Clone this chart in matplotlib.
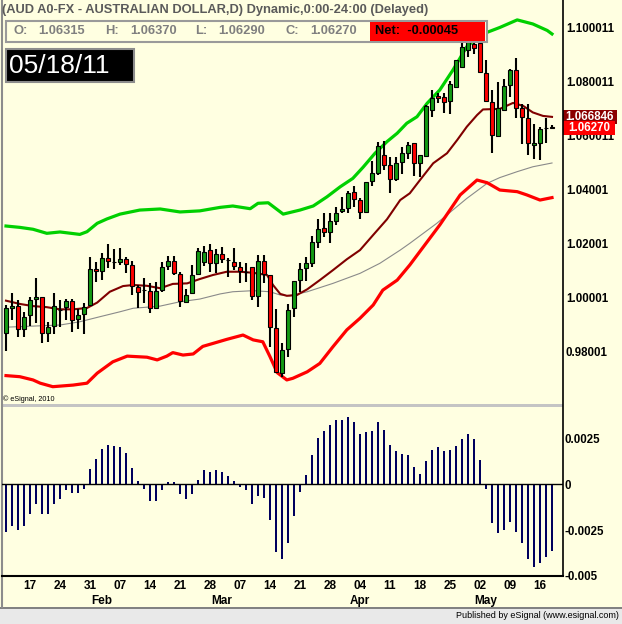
import numpy as np
import pandas as pd
import matplotlib
matplotlib.use("Agg")
import matplotlib.pyplot as plt
from matplotlib.patches import Rectangle

plt.rcParams['font.family'] = ['Liberation Sans', 'DejaVu Sans']

# ---------------- data ----------------
dates = pd.bdate_range('2011-01-11', '2011-05-18')   # 92 daily bars (FX, all weekdays)

opens = [0.98684, 0.99619, 0.99693, 0.98832, 0.99360, 0.99941, 1.00015, 0.98706, 0.98954, 0.99530,
         0.99667, 0.99878, 0.99201, 0.99397, 0.99730, 1.01050, 1.00987, 1.01457, 1.01331, 1.01331,
         1.01431, 1.01198, 1.00407, 1.00285, 1.00248, 0.99608, 1.00285, 1.01172, 1.01368, 1.00865,
         0.99852, 1.00163, 1.00876, 1.01320, 1.01763, 1.01294, 1.01604, 1.01394, 1.01309, 1.01124,
         1.00961, 1.01124, 1.00063, 1.01357, 1.00839, 0.98869, 0.97227, 0.98092, 0.99630, 1.00654,
         1.01087, 1.01294, 1.02070, 1.02588, 1.02418, 1.02847, 1.03194, 1.03305, 1.03896, 1.03612,
         1.03179, 1.04325, 1.04621, 1.05264, 1.04906, 1.04377, 1.05017, 1.05360, 1.05708, 1.04969,
         1.05238, 1.06939, 1.07457, 1.07409, 1.07272, 1.07800, 1.08518, 1.09157, 1.09379, 1.09405,
         1.08296, 1.07246, 1.05978, 1.06939, 1.07845, 1.08418, 1.07013, 1.06632, 1.05634, 1.05730,
         1.06285, 1.06315]
highs = [0.99730, 1.00185, 0.99915, 0.99482, 1.00037, 1.00717, 1.00037, 0.99113, 1.00163, 0.99915,
         0.99952, 0.99941, 0.99571, 0.99793, 1.01516, 1.01331, 1.01641, 1.01985, 1.01789, 1.01826,
         1.01516, 1.01346, 1.00458, 1.00717, 1.00555, 1.00569, 1.01331, 1.01542, 1.01542, 1.00961,
         1.00311, 1.01209, 1.01826, 1.01910, 1.01974, 1.01789, 1.01863, 1.01468, 1.01826, 1.01331,
         1.01272, 1.01146, 1.01579, 1.01579, 1.00839, 0.99571, 0.98314, 0.99767, 1.00617, 1.01272,
         1.01516, 1.02281, 1.02898, 1.03120, 1.03120, 1.03342, 1.03712, 1.03945, 1.04118, 1.03697,
         1.04288, 1.05072, 1.05767, 1.05793, 1.05213, 1.05213, 1.05571, 1.05756, 1.05730, 1.05275,
         1.07124, 1.07678, 1.07579, 1.07556, 1.08022, 1.08787, 1.09527, 1.09774, 1.09675, 1.09675,
         1.08787, 1.07678, 1.07985, 1.08085, 1.08473, 1.08850, 1.07161, 1.07161, 1.06421, 1.06311,
         1.06632, 1.06370]
lows = [0.98041, 0.99176, 0.98536, 0.98558, 0.98954, 0.99054, 0.98314, 0.98373, 0.98647, 0.98906,
        0.99176, 0.98743, 0.98832, 0.98658, 0.99700, 1.00569, 1.00654, 1.01109, 1.01050, 1.01209,
        1.00902, 1.00100, 0.99608, 0.99815, 0.99423, 0.99580, 1.00222, 1.01024, 1.00839, 0.99667,
        0.99820, 1.00120, 1.00839, 1.01170, 1.00961, 1.00902, 1.01272, 1.00754, 1.01024, 1.00532,
        1.00591, 0.99915, 0.99667, 1.00532, 0.98189, 0.97216, 0.97080, 0.97797, 0.99298, 1.00222,
        1.00628, 1.01124, 1.01848, 1.02255, 1.02033, 1.02688, 1.03120, 1.03120, 1.03364, 1.02898,
        1.03131, 1.04129, 1.04536, 1.04721, 1.03882, 1.04325, 1.04573, 1.05116, 1.04499, 1.04451,
        1.05190, 1.06680, 1.07209, 1.06817, 1.06780, 1.07778, 1.08510, 1.08887, 1.09006, 1.08340,
        1.07235, 1.05360, 1.05940, 1.06900, 1.07420, 1.06643, 1.05682, 1.05275, 1.05128, 1.05080,
        1.05708, 1.06270]
closes = [0.99630, 0.99693, 0.98832, 0.99298, 0.99904, 1.00015, 0.98684, 0.98906, 0.99693, 0.99550,
          0.99878, 0.99176, 0.99349, 0.99667, 1.01050, 1.00987, 1.01457, 1.01368, 1.01320, 1.01420,
          1.01246, 1.00444, 1.00222, 1.00280, 0.99608, 1.00248, 1.01135, 1.01368, 1.00924, 0.99878,
          1.00100, 1.00839, 1.01738, 1.01690, 1.01294, 1.01604, 1.01420, 1.01390, 1.01161, 1.00998,
          1.00960, 1.00063, 1.01357, 1.00876, 0.98928, 0.97264, 0.98067, 0.99545, 1.00617, 1.01061,
          1.01272, 1.02048, 1.02551, 1.02429, 1.02824, 1.03142, 1.03268, 1.03860, 1.03638, 1.03179,
          1.04288, 1.04621, 1.05608, 1.04906, 1.04377, 1.04991, 1.05349, 1.05645, 1.04969, 1.05257,
          1.07087, 1.07383, 1.07372, 1.07246, 1.07900, 1.08787, 1.09257, 1.09453, 1.09231, 1.08355,
          1.07272, 1.06015, 1.07013, 1.07826, 1.08418, 1.07013, 1.06680, 1.05719, 1.05708, 1.06248,
          1.06275, 1.06270]

# oscillator histogram (lower pane)
osc = [-0.00263, -0.00226, -0.00252, -0.00230, -0.00165, -0.00110, -0.00160, -0.00165, -0.00110, -0.00080,
       -0.00034, -0.00050, -0.00050, -0.00025, 0.00083, 0.00138, 0.00192, 0.00214, 0.00208, 0.00203,
       0.00172, 0.00089, 0.00018, -0.00024, -0.00094, -0.00094, -0.00034, 0.00013, 0.00013, -0.00056,
       -0.00080, -0.00053, 0.00024, 0.00078, 0.00067, 0.00078, 0.00067, 0.00045, 0.00018, -0.00013,
       -0.00034, -0.00110, -0.00067, -0.00074, -0.00197, -0.00370, -0.00410, -0.00320, -0.00176, -0.00045,
       0.00049, 0.00160, 0.00252, 0.00290, 0.00322, 0.00350, 0.00350, 0.00366, 0.00339, 0.00274,
       0.00284, 0.00290, 0.00339, 0.00295, 0.00214, 0.00181, 0.00165, 0.00160, 0.00094, 0.00056,
       0.00127, 0.00187, 0.00203, 0.00181, 0.00187, 0.00208, 0.00246, 0.00274, 0.00246, 0.00132,
       -0.00024, -0.00214, -0.00268, -0.00252, -0.00208, -0.00263, -0.00322, -0.00410, -0.00453, -0.00431,
       -0.00399, -0.00366]

# band lines: bar number (1 = first bar) and price
upper_bar = [1, 3.3, 5.5, 7.8, 10, 13.3, 14.5, 16.2, 17.8, 20, 23.3, 26.7, 30, 33.3, 36.7, 38.8, 41.7,
             43, 44.7, 47.2, 50, 52.2, 54.5, 56.7, 58.8, 60.5, 62.5, 64.5, 66.2, 67.8, 69.5, 71.2, 73.3,
             75.5, 77.8, 80, 83.3, 86.2, 88.8, 91.2, 92]
upper_val = [1.0265, 1.0260, 1.0253, 1.0238, 1.0243, 1.0234, 1.0244, 1.0275, 1.0291, 1.0309, 1.0324,
             1.0328, 1.0317, 1.0321, 1.0334, 1.0339, 1.0329, 1.0349, 1.0351, 1.0309, 1.0324, 1.0339,
             1.0373, 1.0410, 1.0441, 1.0482, 1.0534, 1.0577, 1.0608, 1.0645, 1.0669, 1.0719, 1.0768,
             1.0842, 1.0928, 1.0971, 1.0999, 1.1027, 1.1012, 1.0988, 1.0975]
lower_bar = [1, 3.3, 5.5, 6.7, 8.8, 12.2, 14.5, 16.2, 18.8, 21.2, 24.5, 26.2, 27.8, 28.8, 30.5, 32.2,
             33.8, 35.5, 37.8, 40.5, 42.2, 43.8, 45, 46.2, 47.8, 48.8, 51.2, 53.3, 55.5, 57.8, 60, 62.2,
             63.8, 66.2, 68.3, 73.3, 76.7, 79.5, 81.2, 83.3, 86.2, 87.8, 90, 92]
lower_val = [0.9712, 0.9708, 0.9696, 0.9684, 0.9671, 0.9677, 0.9684, 0.9721, 0.9763, 0.9784, 0.9780,
             0.9770, 0.9784, 0.9797, 0.9788, 0.9792, 0.9820, 0.9831, 0.9846, 0.9862, 0.9844, 0.9837,
             0.9782, 0.9723, 0.9696, 0.9702, 0.9726, 0.9757, 0.9819, 0.9881, 0.9924, 0.9973, 1.0028,
             1.0065, 1.0121, 1.0269, 1.0380, 1.0435, 1.0425, 1.0398, 1.0392, 1.0380, 1.0361, 1.0370]
mid_bar = [1, 3.3, 5.5, 7.8, 10, 12.2, 14.5, 16.2, 18.3, 20.5, 22.2, 24.5, 26.7, 28.8, 31.2, 33.3, 35.5,
           37.8, 40, 42.2, 44.5, 45.5, 46.7, 47.8, 49.5, 51.2, 53.3, 55.5, 57.8, 60, 62.2, 64.5, 66.7,
           68.3, 70, 72.2, 74.5, 76.2, 77.8, 79.5, 80.5, 83.3, 85.5, 87.2, 88.8, 90.5, 92]
mid_val = [0.9989, 0.9977, 0.9969, 0.9965, 0.9957, 0.9957, 0.9962, 0.9982, 1.0022, 1.0043, 1.0047,
           1.0044, 1.0035, 1.0051, 1.0053, 1.0069, 1.0084, 1.0096, 1.0096, 1.0092, 1.0084, 1.0047,
           1.0014, 1.0007, 1.0010, 1.0031, 1.0065, 1.0102, 1.0142, 1.0176, 1.0232, 1.0290, 1.0361,
           1.0386, 1.0435, 1.0497, 1.0534, 1.0583, 1.0632, 1.0675, 1.0696, 1.0698, 1.0720, 1.0709,
           1.0685, 1.0672, 1.066846]
slow_bar = [1, 5.5, 10, 13.3, 16.7, 20, 22.2, 24.5, 26.7, 30, 33.3, 36.7, 38.8, 42.2, 45, 46.7, 48.3,
            51.2, 55.5, 60, 63.3, 66.7, 68.3, 72.8, 77.8, 81.2, 83.3, 86.2, 88.8, 92]
slow_val = [0.9891, 0.9895, 0.9899, 0.9911, 0.9930, 0.9948, 0.9961, 0.9965, 0.9969, 0.9985, 0.9995,
            1.0014, 1.0022, 1.0026, 1.0022, 1.0010, 1.0007, 1.0022, 1.0053, 1.0090, 1.0127, 1.0176,
            1.0201, 1.0275, 1.0367, 1.0423, 1.0444, 1.0466, 1.0484, 1.0498]

price_ticks = [0.98001, 1.00001, 1.02001, 1.04001, 1.060011, 1.080011, 1.100011]
price_tick_labels = ['0.98001', '1.00001', '1.02001', '1.04001', '1.060011', '1.080011', '1.100011']
osc_ticks = [-0.005, -0.0025, 0.0, 0.0025]
osc_tick_labels = ['-0.005', '-0.0025', '0', '0.0025']

title = "(AUD A0-FX - AUSTRALIAN DOLLAR,D) Dynamic,0:00-24:00 (Delayed)"
ohlc_labels = ['O:', 'H:', 'L:', 'C:']
ohlc_values = ['1.06315', '1.06370', '1.06290', '1.06270']
net_text = 'Net:  -0.00045'
date_text = '05/18/11'
mid_last_label = '1.066846'
close_last_label = '1.06270'

# ---------------- style ----------------
BG = '#FFFFE1'
GREEN_BODY = '#139a13'
RED_BODY = '#ff0000'
W, H = 622, 624

fig = plt.figure(figsize=(W / 100, H / 100), dpi=100)
fig.patch.set_facecolor(BG)


def px_axes(x0, y0, x1, y1, z):
    return fig.add_axes([x0 / W, 1 - y1 / H, (x1 - x0) / W, (y1 - y0) / H], zorder=z)


bg = px_axes(0, 0, W, H, 0)
bg.set_xlim(0, W); bg.set_ylim(H, 0); bg.axis('off')

ax = px_axes(2, 18, 563, 404, 1)
ax2 = px_axes(2, 407, 563, 576, 1)
ov = px_axes(0, 0, W, H, 3)
ov.set_xlim(0, W); ov.set_ylim(H, 0); ov.axis('off'); ov.patch.set_visible(False)

n = len(dates)
x = np.arange(1, n + 1)
o = np.array(opens); hi = np.array(highs); lo = np.array(lows); c = np.array(closes)

for a in (ax, ax2):
    a.set_facecolor(BG)
    a.patch.set_visible(False)
    for s in a.spines.values():
        s.set_visible(False)
    a.set_xlim(2 / 6, 563 / 6)

# price pane
price_lo = 1.0 + (297.7 - 404) / 2705
price_hi = 1.0 + (297.7 - 18) / 2705
ax.set_ylim(price_lo, price_hi)

ax.plot(slow_bar, slow_val, color='#8a8a8a', lw=0.8, zorder=2)
ax.plot(mid_bar, mid_val, color='#800000', lw=1.5, zorder=2)
ax.plot(upper_bar, upper_val, color='#00d000', lw=2.3, zorder=2)
ax.plot(lower_bar, lower_val, color='#ff0000', lw=2.3, zorder=2)

ax.vlines(x, lo, hi, color='black', lw=1.5, zorder=3)
up = c >= o
ax.bar(x, np.abs(c - o), bottom=np.minimum(o, c), width=0.78,
       color=np.where(up, GREEN_BODY, RED_BODY), edgecolor='black', linewidth=0.8, zorder=4)

ax.set_xticks([])
ax.yaxis.tick_right()
ax.set_yticks(price_ticks)
ax.set_yticklabels(price_tick_labels, fontsize=8.3, fontweight='bold')
ax.tick_params(axis='y', length=0, pad=2)

# oscillator pane
ax2.set_ylim((484.3 - 576) / 18400, (484.3 - 407) / 18400)
ax2.bar(x, osc, width=0.36, color='#00005e', zorder=2)
ax2.axhline(0, color='black', lw=1.0, zorder=3)
ax2.yaxis.tick_right()
ax2.set_yticks(osc_ticks)
ax2.set_yticklabels(osc_tick_labels, fontsize=8.3, fontweight='bold')
ax2.tick_params(axis='y', length=0, pad=1)

mondays = [i for i, d in enumerate(dates) if d.weekday() == 0]
ax2.set_xticks(x[mondays])
ax2.set_xticklabels([dates[i].strftime('%d') for i in mondays], fontsize=8.5, fontweight='bold')
ax2.tick_params(axis='x', length=0, pad=3)

# month labels (first trading day of each month after the first)
to_px = lambda a, xv, yv: (a.transData.transform((xv, yv))[0], H - a.transData.transform((xv, yv))[1])
fig.canvas.draw()
months = pd.Series(dates.month)
for i in range(1, n):
    if months[i] != months[i - 1]:
        px, _ = to_px(ax2, x[i] + 1, 0)
        ov.text(px, 601, dates[i].strftime('%b'), ha='center', va='center',
                fontsize=8.5, fontweight='bold')

# ---------------- frame / decorations ----------------
bg.add_patch(Rectangle((0, 607), W, 17, facecolor='#e9e9e9', edgecolor='none'))
bg.plot([0, W], [607.5, 607.5], color='#6e6e6e', lw=1.2)
bg.plot([2, 2], [0, 607], color='#8c8c8c', lw=1.5)
bg.add_patch(Rectangle((2, 404), 561, 3, facecolor='#c4c4c4', edgecolor='none'))
ov.plot([563, 563], [0, 576], color='black', lw=1.2)
ov.plot([2, 563], [576, 576], color='black', lw=1.5)
ov.text(619, 616, 'Published by eSignal (www.esignal.com)', ha='right', va='center', fontsize=6.5)
ov.text(3, 399, '\u00a9 eSignal, 2010', ha='left', va='center', fontsize=5.2)

ov.text(2, 10, title, ha='left', va='center', fontsize=9.3, fontweight='bold', color='#5a5a5a')

# OHLC strip
ov.add_patch(Rectangle((6, 21), 481, 21, facecolor=BG, edgecolor='#9a9a9a', lw=1.5))
for lab, xl, val, xv in zip(ohlc_labels, [13, 105, 195, 285], ohlc_values, [38, 130, 218, 310]):
    ov.text(xl, 31.5, lab, ha='left', va='center', fontsize=9.3, fontweight='bold', color='#7f7f7f')
    ov.text(xv, 31.5, val, ha='left', va='center', fontsize=9.3, fontweight='bold', color='#7f7f7f')
ov.add_patch(Rectangle((370, 22), 115, 19, facecolor='#ff0000', edgecolor='none'))
ov.text(375, 31.5, net_text, ha='left', va='center', fontsize=9.3, fontweight='bold', color='black')

# date box
ov.add_patch(Rectangle((6, 49), 128, 33, facecolor='black', edgecolor='#8c8c8c', lw=1.5))
ov.text(9, 66, date_text, ha='left', va='center', fontsize=19, color='white')

# last value flags on the price scale
_, y_mid = to_px(ax, 1, mid_val[-1])
_, y_cls = to_px(ax, 1, closes[-1])
ov.add_patch(Rectangle((563, y_mid - 7), 54, 14, facecolor='#8b0000', edgecolor='none'))
ov.text(565, y_mid, mid_last_label, ha='left', va='center', fontsize=8.3, fontweight='bold', color='white')
ov.add_patch(Rectangle((563, y_cls - 7), 52, 14, facecolor='#ff0000', edgecolor='none'))
ov.text(568, y_cls, close_last_label, ha='left', va='center', fontsize=8.3, fontweight='bold', color='white')

fig.savefig('out.png', dpi=100, facecolor=BG)
